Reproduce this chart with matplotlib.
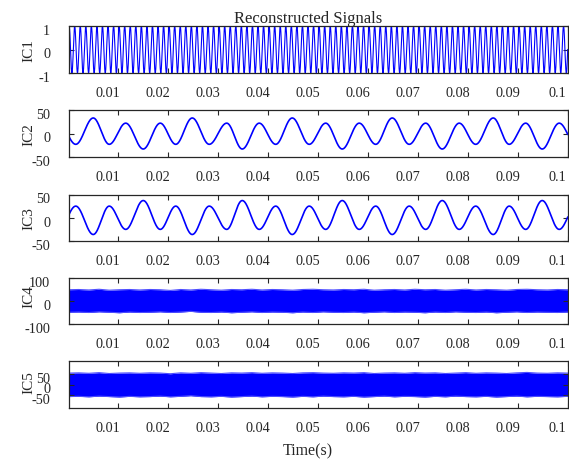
import numpy as np
import matplotlib
matplotlib.use('Agg')
import matplotlib.pyplot as plt
import matplotlib.transforms as mtransforms

plt.rcParams['font.family'] = ['Liberation Serif', 'DejaVu Serif']

# record span (s)
T_START = 0.00015
T_END = 0.1

# IC1: pure tone
IC1_FREQ = 900.0
IC1_AMP = 1.0

# IC2 / IC3: extrema (time, value) of the two 150 Hz components
EXT_T = [-0.0017, 0.0016, 0.0051, 0.0083, 0.0116, 0.0151, 0.0185, 0.0216,
         0.0249, 0.0283, 0.0318, 0.0349, 0.0383, 0.0416, 0.0449, 0.0483,
         0.0516, 0.0549, 0.0583, 0.0616, 0.0649, 0.0683, 0.0716, 0.0749,
         0.0783, 0.0816, 0.0851, 0.0883, 0.0916, 0.0949, 0.0983, 0.1016]
IC2_EXT = [22, -23, 33, -23, 22, -33, 22, -23, 33, -23, 22, -33, 22, -23, 33, -23,
           22, -33, 22, -23, 33, -23, 22, -33, 22, -23, 33, -23, 22, -33, 22, -23]
IC3_EXT = [-25, 25, -36, 25, -25, 37, -25, 25, -36, 25, -25, 37, -25, 25, -36, 25,
           -25, 37, -25, 25, -36, 25, -25, 37, -25, 25, -36, 25, -25, 37, -25, 25]

# IC4 / IC5: upper and lower edges of the noise band
IC4_TOP = [49, 50, 48, 51, 47, 49, 50, 48, 50, 49, 46, 50, 48, 51, 49, 47, 50,
           49, 51, 48, 50, 49, 47, 50, 51, 49, 48, 50, 49, 51, 47, 49, 50, 48,
           51, 49, 50, 47, 49, 51, 48, 50, 49, 47, 50, 51, 49, 48, 50, 49]
IC4_BOT = [-49, -48, -50, -47, -49, -51, -48, -50, -49, -47, -50, -48, -45, -49,
           -50, -48, -51, -49, -47, -50, -48, -49, -51, -48, -50, -47, -49, -50,
           -48, -51, -49, -47, -50, -48, -49, -51, -48, -50, -47, -49, -50, -48,
           -51, -49, -47, -50, -48, -49, -50, -48]
IC5_TOP = [52, 53, 51, 54, 50, 52, 53, 51, 53, 52, 49, 53, 51, 54, 52, 50, 53,
           52, 54, 51, 53, 52, 50, 53, 54, 52, 51, 53, 52, 54, 50, 52, 53, 51,
           54, 52, 53, 50, 52, 54, 51, 53, 52, 50, 53, 55, 52, 51, 53, 52]
IC5_BOT = [-55, -54, -56, -53, -55, -57, -54, -56, -55, -53, -56, -54, -51, -55,
           -56, -54, -57, -55, -53, -56, -54, -55, -57, -54, -56, -53, -55, -56,
           -54, -57, -55, -53, -56, -54, -55, -57, -54, -56, -53, -55, -56, -54,
           -57, -55, -53, -56, -54, -55, -56, -54]

LABELS = ['IC1', 'IC2', 'IC3', 'IC4', 'IC5']
YLIMS = [(-1, 1), (-50, 50), (-50, 50), (-100, 100), (-107, 107)]
YTICKS = [[-1, 0, 1], [-50, 0, 50], [-50, 0, 50], [-100, 0, 100], [-50, 0, 50]]
XTICKS = [0.01, 0.02, 0.03, 0.04, 0.05, 0.06, 0.07, 0.08, 0.09, 0.1]
XTICKLABELS = ['0.01', '0.02', '0.03', '0.04', '0.05', '0.06', '0.07', '0.08', '0.09', '0.1']


def through_extrema(t, ext_t, ext_v):
    # half-cosine arcs joining successive extrema
    ext_t = np.asarray(ext_t)
    ext_v = np.asarray(ext_v, dtype=float)
    i = np.clip(np.searchsorted(ext_t, t) - 1, 0, len(ext_t) - 2)
    t0, t1 = ext_t[i], ext_t[i + 1]
    v0, v1 = ext_v[i], ext_v[i + 1]
    ph = (t - t0) / (t1 - t0)
    return (v0 + v1) / 2 + (v0 - v1) / 2 * np.cos(np.pi * ph)


t = np.linspace(T_START, T_END, 20000)
ic1 = IC1_AMP * np.sin(2 * np.pi * IC1_FREQ * t)
ic2 = through_extrema(t, EXT_T, IC2_EXT)
ic3 = through_extrema(t, EXT_T, IC3_EXT)

fig = plt.figure(figsize=(5.69, 4.6), dpi=100)
W, H = 569.0, 460.0
left, right = 68.5, 567.7
boxes = [(27, 74), (111, 158), (195.5, 242), (279, 325), (362, 409)]
label_y = [0.5, 0.5, 0.5, 0.62, 0.56]

blue = '#0000ff'
fringe = '#4d4dff'
frame = '#262626'
dx = mtransforms.ScaledTranslation(-10 / 100, 0, fig.dpi_scale_trans)
dy = mtransforms.ScaledTranslation(0, -3 / 100, fig.dpi_scale_trans)

axes = []
for k, (top, bot) in enumerate(boxes):
    ax = fig.add_axes([left / W, 1 - bot / H, (right - left) / W, (bot - top) / H])
    axes.append(ax)

axes[0].plot(t, ic1, color=blue, lw=0.8)
axes[1].plot(t, ic2, color=blue, lw=1.2)
axes[2].plot(t, ic3, color=blue, lw=1.2)

# noise bands, with a lighter ragged rim
for ax, top, bot in [(axes[3], IC4_TOP, IC4_BOT), (axes[4], IC5_TOP, IC5_BOT)]:
    te = np.linspace(T_START, T_END, len(top))
    ax.fill_between(te, bot, top, color=blue, lw=0)
    ax.plot(te, top, color=fringe, lw=0.8)
    ax.plot(te, bot, color=fringe, lw=0.8)

for k, ax in enumerate(axes):
    ax.set_xlim(T_START, T_END)
    ax.set_ylim(*YLIMS[k])
    ax.set_xticks(XTICKS)
    ax.set_xticklabels(XTICKLABELS)
    ax.set_yticks(YTICKS[k])
    ax.set_yticklabels([str(v) for v in YTICKS[k]])
    ax.tick_params(direction='in', top=True, right=True, length=3.5, width=0.8,
                   color=frame, labelsize=10.3, labelcolor='#262626')
    ax.tick_params(axis='x', pad=9.4)
    ax.tick_params(axis='y', pad=13.3)
    for s in ax.spines.values():
        s.set_color(frame)
        s.set_linewidth(0.9)
    for lbl in ax.get_xticklabels():
        lbl.set_transform(lbl.get_transform() + dx)
    for lbl in ax.get_yticklabels():
        lbl.set_transform(lbl.get_transform() + dy)
    ax.set_ylabel(LABELS[k], fontsize=11, color='#262626')
    ax.yaxis.set_label_coords(-0.066, label_y[k])

fig.text(308 / W, 1 - 23 / H, 'Reconstructed Signals', ha='center', va='baseline',
         fontsize=12, color='#262626')
fig.text(308 / W, 1 - 455 / H, 'Time(s)', ha='center', va='baseline',
         fontsize=11.4, color='#262626')

fig.savefig('out.png', dpi=100)
